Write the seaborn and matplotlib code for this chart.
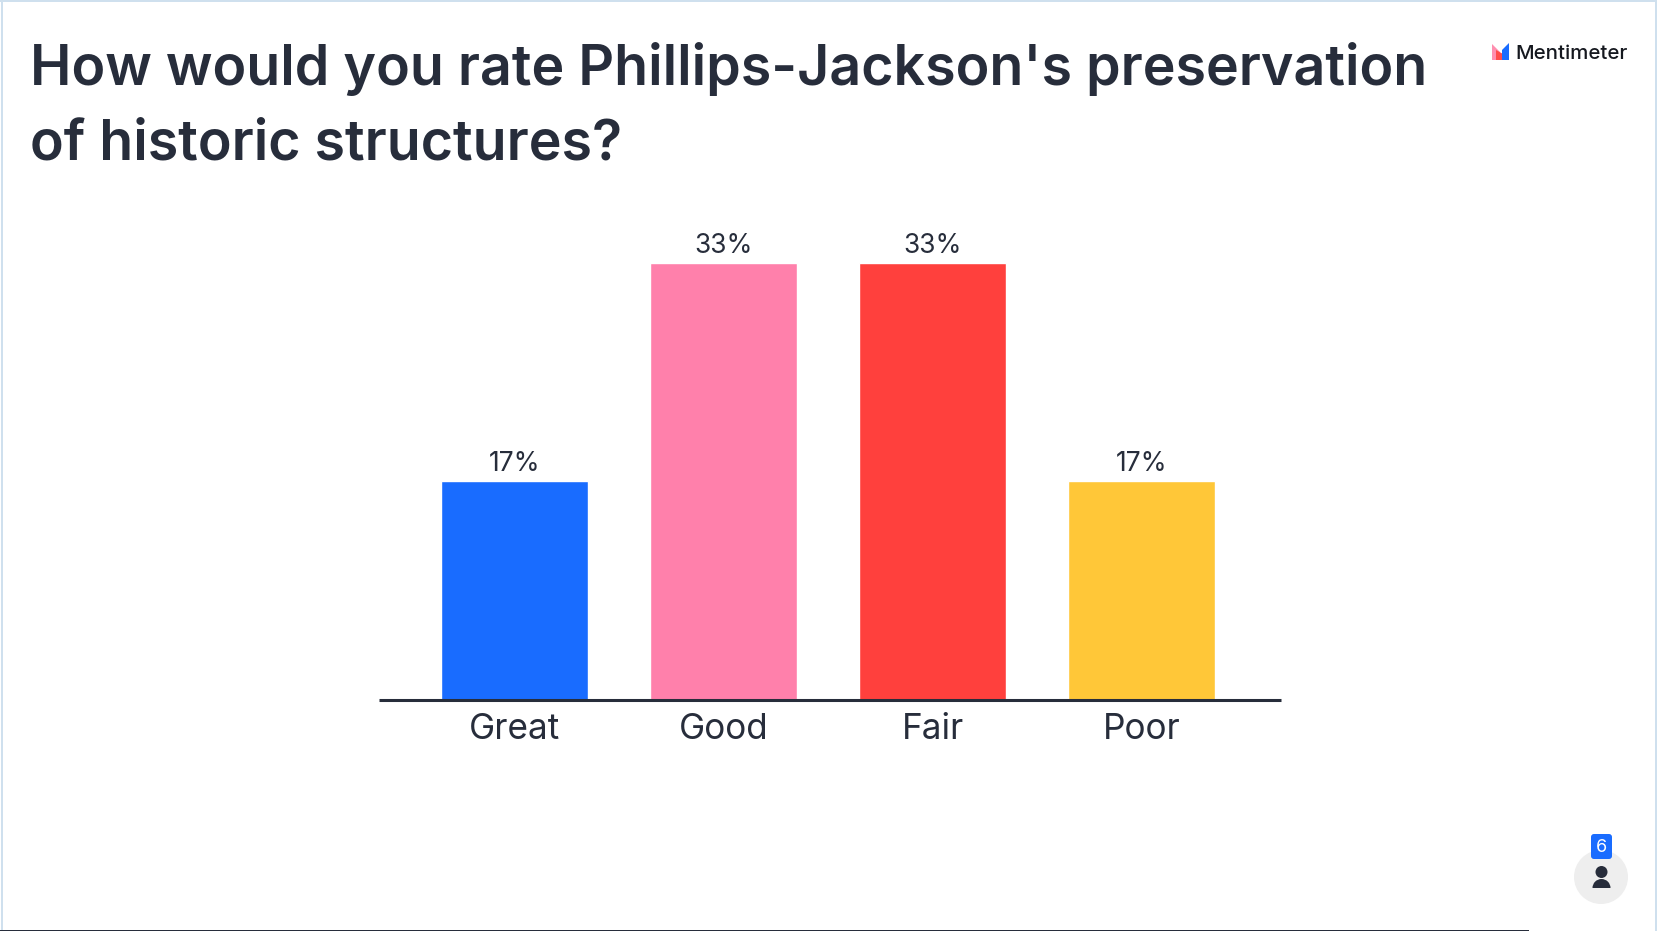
import matplotlib
matplotlib.use("Agg")
import matplotlib.pyplot as plt
from matplotlib.patches import Circle, FancyBboxPatch, Polygon, Rectangle, Wedge
import pandas as pd
import seaborn as sns

# Poll results
title = "How would you rate Phillips-Jackson's preservation\nof historic structures?"
categories = ["Great", "Good", "Fair", "Poor"]
votes = [1, 2, 2, 1]
bar_colors = ["#196cff", "#ff80ab", "#ff403d", "#ffc738"]
respondents = sum(votes)
shares = [100 * v / respondents for v in votes]

INK = "#272d3b"
W, H = 1658, 931

sns.set_theme(style="white")
plt.rcParams["font.family"] = ["Inter", "DejaVu Sans"]

fig = plt.figure(figsize=(W / 100, H / 100), dpi=100, facecolor="white")

# Chart area, placed in pixels from the top-left corner
left, right, top, base = 379, 1281, 220, 699.5
ax = fig.add_axes([left / W, 1 - base / H, (right - left) / W, (base - top) / H])
df = pd.DataFrame({"category": categories, "share": shares})
sns.barplot(data=df, x="category", y="share", hue="category", palette=bar_colors,
            width=0.703, saturation=1, legend=False, ax=ax)
ax.set_xlim(-0.648, 3.667)
ax.set_ylim(0, 33.333 * (base - top) / 436)
ax.set(xlabel="", ylabel="", yticks=[])
sns.despine(ax=ax, left=True)
ax.spines["bottom"].set_color(INK)
ax.spines["bottom"].set_linewidth(2.2)
ax.spines["bottom"].set_capstyle("butt")
ax.tick_params(axis="x", length=0, pad=10, labelsize=25.3, labelcolor=INK)
for container in ax.containers:
    ax.bar_label(container, labels=[f"{s:.0f}%" for s in container.datavalues],
                 padding=3.2, fontsize=19, color=INK)

# Overlay in pixel coordinates for the slide furniture
ov = fig.add_axes([0, 0, 1, 1], facecolor="none")
ov.set_xlim(0, W)
ov.set_ylim(H, 0)
ov.axis("off")

ov.text(30, 159, title, fontsize=40, fontweight="semibold", color=INK,
        va="baseline", ha="left", linespacing=1.53)

# Logo mark and wordmark
ov.add_patch(Polygon([(1492, 44), (1500, 52), (1500, 60), (1492, 60)], color="#ff8fb0", lw=0))
ov.add_patch(Polygon([(1496, 50), (1503, 54), (1503, 60), (1496, 60)], color="#ff4c4c", lw=0))
ov.add_patch(Polygon([(1502, 50), (1509, 43), (1509, 60), (1502, 60)], color="#196cff", lw=0))
ov.text(1515, 59, "Mentimeter", fontsize=14.7, fontweight="medium", color="#15181f",
        va="baseline", ha="left")

# Respondent counter
ov.add_patch(Circle((1601, 877), 27, color="#eeeeee", lw=0, zorder=2))
ov.add_patch(FancyBboxPatch((1594, 837), 15, 19, boxstyle="round,pad=3,rounding_size=3",
                            color="#196cff", lw=0, zorder=3))
ov.text(1601.5, 847, str(respondents), fontsize=13, color="white", ha="center",
        va="center", zorder=4)
ov.add_patch(Circle((1601.5, 872), 6, color=INK, lw=0, zorder=3))
ov.add_patch(Wedge((1601.5, 888), 9, 180, 360, color=INK, lw=0, zorder=3))

# Slide frame
frame = "#cfe0ee"
ov.add_patch(Rectangle((0, 0), W, 1.5, color=frame, lw=0))
ov.add_patch(Rectangle((1.5, 0), 1.5, H, color=frame, lw=0))
ov.add_patch(Rectangle((W - 3, 0), 2, H, color=frame, lw=0))
ov.add_patch(Rectangle((0, 929.5), 1529, 1.5, color=INK, lw=0))

fig.savefig("out.png", dpi=100, facecolor="white")
